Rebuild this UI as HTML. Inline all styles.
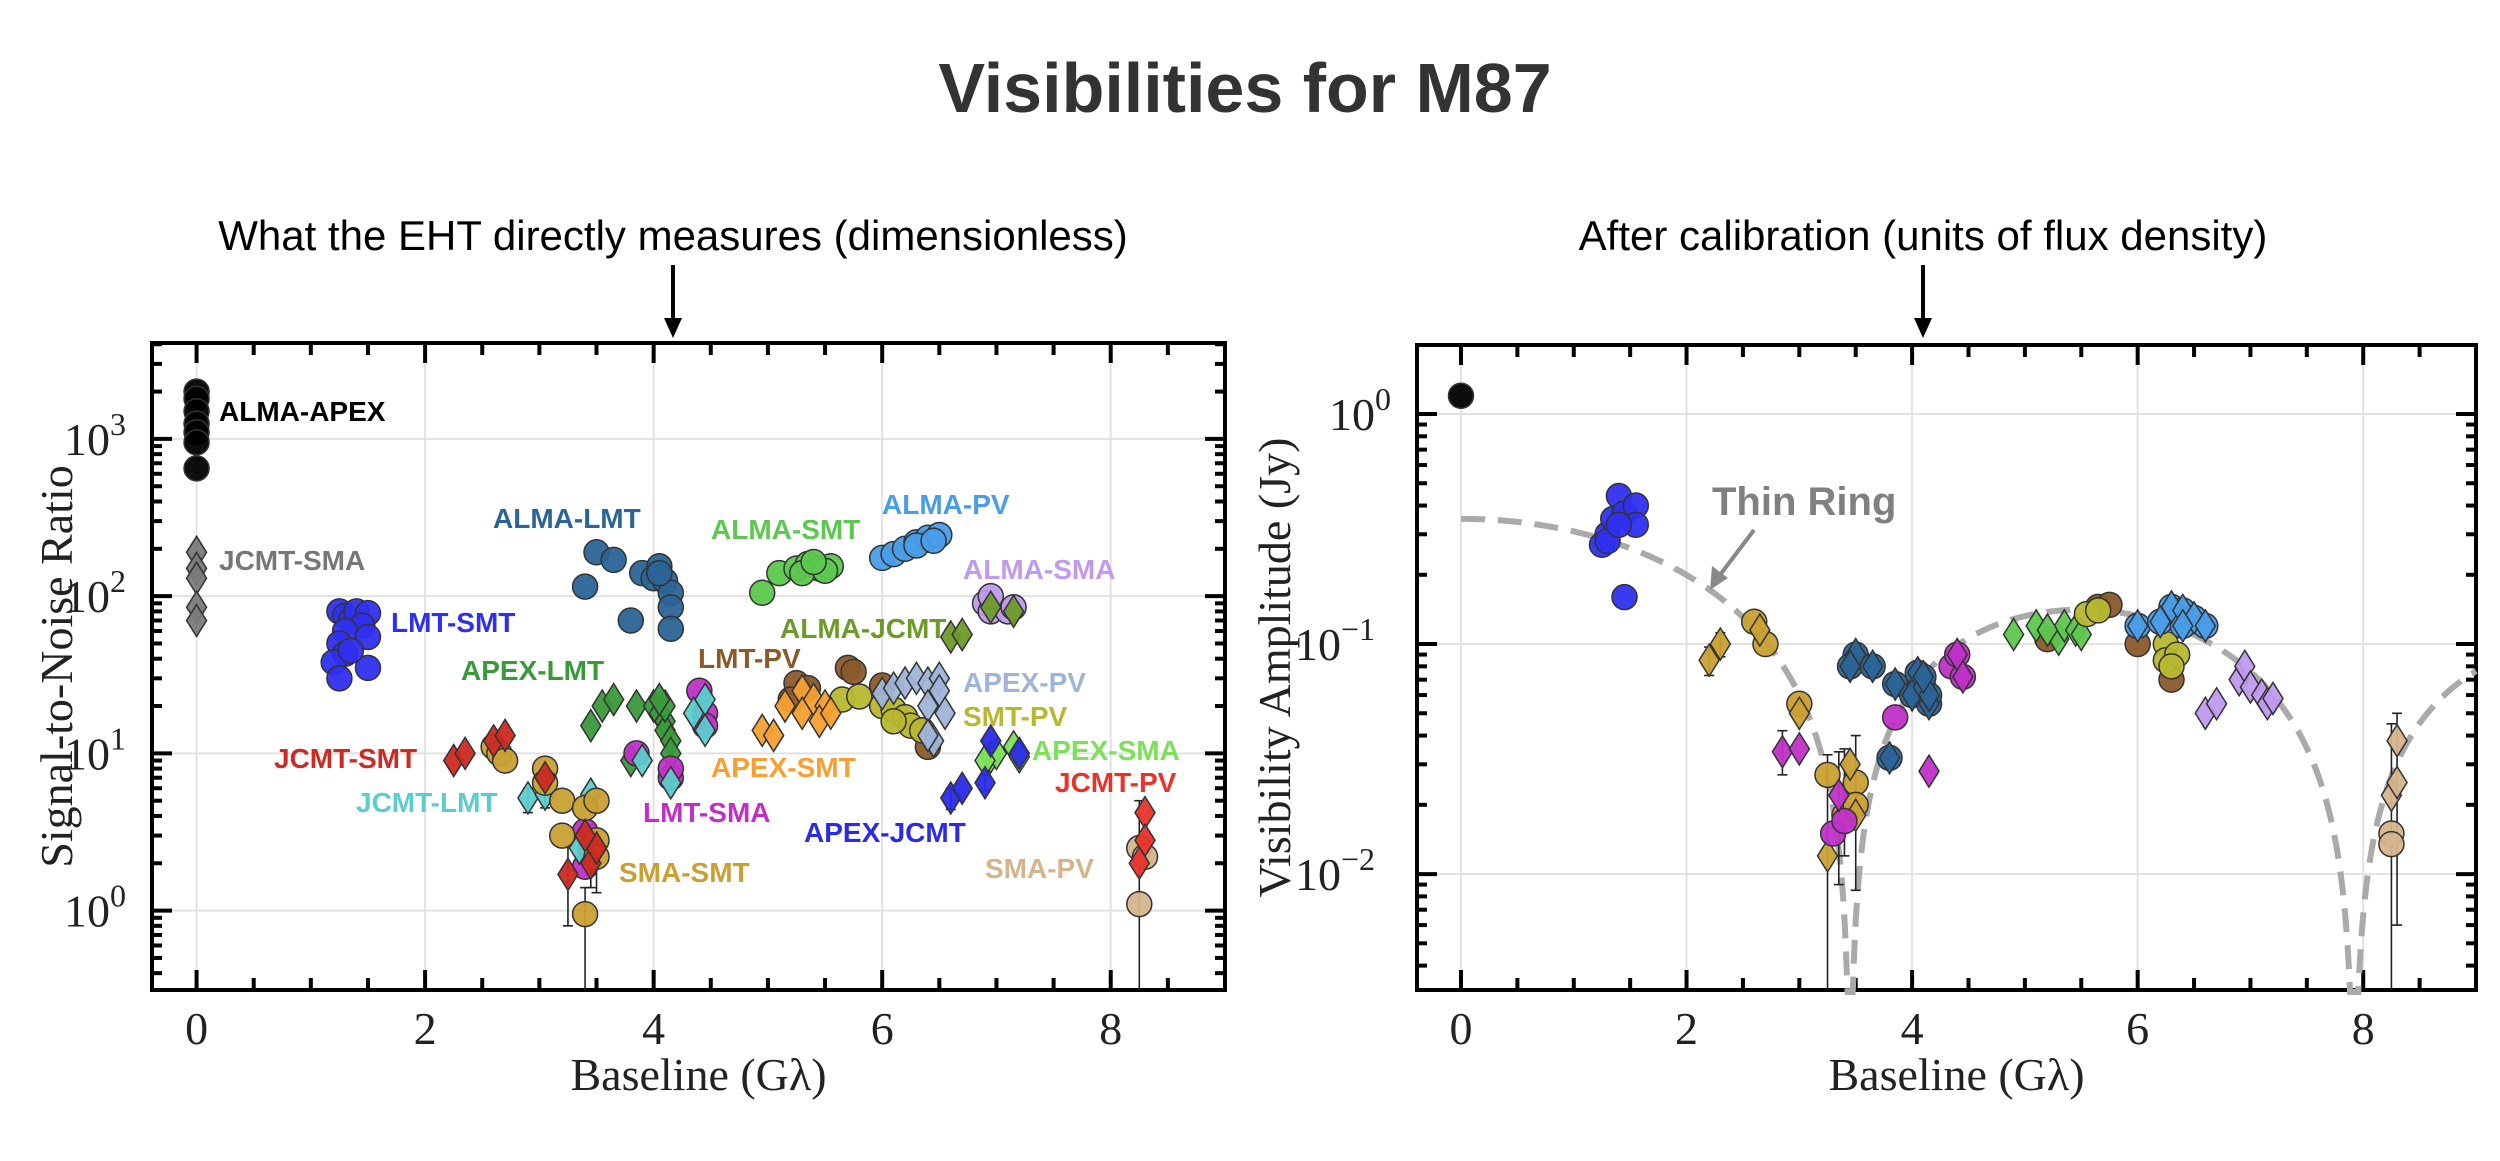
<!DOCTYPE html>
<html><head><meta charset="utf-8"><style>
body{margin:0;background:#fff;}
svg{display:block;}
.tl{font-family:"Liberation Serif",serif;font-size:46px;fill:#222;}
.bl{font-family:"Liberation Sans",sans-serif;font-weight:bold;font-size:28px;}
</style></head><body>
<svg id="chart" width="2500" height="1161" viewBox="0 0 2500 1161" xmlns="http://www.w3.org/2000/svg">
<text x="1245" y="112" text-anchor="middle" font-family="Liberation Sans, sans-serif" font-weight="bold" font-size="70" fill="#333">Visibilities for M87</text>
<text x="673" y="250" text-anchor="middle" font-family="Liberation Sans, sans-serif" font-size="42" fill="#000">What the EHT directly measures (dimensionless)</text>
<text x="1923" y="250" text-anchor="middle" font-family="Liberation Sans, sans-serif" font-size="42" fill="#000">After calibration (units of flux density)</text>
<g><line x1="673" y1="265" x2="673" y2="322" stroke="#000" stroke-width="4"/><polygon points="664,318 682,318 673,338" fill="#000"/></g>
<g><line x1="1923" y1="265" x2="1923" y2="322" stroke="#000" stroke-width="4"/><polygon points="1914,318 1932,318 1923,338" fill="#000"/></g>
<g id="left"></g>
<g id="right"></g>
</svg>
<script>
// ---------- data: left panel (SNR) ----------
const snrAlmaApex = [[0,2000],[0,1800],[0,1500],[0,1250],[0,1100],[0,950],[0,650]];
const snrJcmtSma = [[0,190],[0,150],[0,130],[0,85],[0,70]];
const snrLmtSmt = [[1.25,80],[1.3,75],[1.35,70],[1.4,80],[1.5,78],[1.45,65],[1.3,60],[1.25,50],[1.3,43],[1.2,38],[1.25,30],[1.5,55],[1.5,35],[1.35,45]];
const snrAlmaLmt = [[3.5,190],[3.65,170],[3.4,115],[3.8,70],[3.9,140],[4.0,130],[4.05,155],[4.1,125],[4.15,105],[4.15,85],[4.15,62],[4.05,140]];
const snrAlmaSmt = [[4.95,105],[5.1,140],[5.25,150],[5.35,160],[5.45,150],[5.55,155],[5.3,140],[5.5,145],[5.4,165]];
const snrAlmaPv = [[6.0,175],[6.1,185],[6.2,200],[6.3,220],[6.4,235],[6.5,245],[6.3,210],[6.45,225]];
const snrAlmaSma = [[6.9,90],[6.95,80],[7.1,80],[7.15,85],[6.95,100]];
const snrAlmaJcmt = [[6.6,55],[6.7,57],[6.95,85],[7.15,80]];
const snrLmtPv = [[5.25,28],[5.35,26],[5.7,35],[5.75,33],[6.0,27],[6.35,14],[6.4,11],[5.2,22]];
const snrApexSmt = [[4.95,14],[5.05,13],[5.15,20],[5.3,25],[5.3,18],[5.4,22],[5.5,20],[5.45,16],[5.55,18]];
const snrSmtPv = [[5.65,22],[5.8,23],[6.0,20],[6.1,19],[6.2,17],[6.25,15],[6.35,14],[6.1,16]];
const snrApexPv = [[6.0,24],[6.1,26],[6.2,28],[6.3,30],[6.4,28],[6.5,30],[6.5,25],[6.4,20],[6.55,18],[6.45,12],[6.4,13]];
const snrApexLmt = [[3.45,15],[3.55,20],[3.65,22],[3.85,20],[4.0,20],[4.05,18],[4.1,16],[4.1,14],[4.15,12],[4.15,10],[3.8,9],[4.1,20],[4.05,22]];
const snrLmtSma = [[4.4,25],[4.45,18],[4.45,15],[3.85,10],[4.15,7],[4.15,8],[3.4,3.2],[3.4,1.9],[3.45,2.5]];
const snrJcmtLmt = [[4.35,18],[4.45,22],[4.45,14],[3.9,9],[4.15,6.5],[2.9,5.2],[3.05,5.5],[3.45,5.5],[3.35,2.5]];
const snrJcmtSmt = [[2.25,9],[2.35,10],[2.6,12],[2.7,13],[3.05,7],[3.25,1.7],[3.45,2],[3.5,2.5],[3.4,3]];
const snrSmaSmt = [[2.6,11],[2.65,10],[2.7,9],[3.05,8],[3.05,6.5],[3.2,5],[3.4,4.5],[3.5,5],[3.2,3],[3.5,2.8],[3.5,2.2],[3.4,0.95]];
const snrApexSma = [[6.95,9.5],[7.0,10],[7.15,11],[7.2,9.5],[6.9,9]];
const snrApexJcmt = [[6.6,5.2],[6.7,6],[6.9,6.5],[6.95,12],[7.2,10]];
const snrJcmtPv = [[8.3,4.2],[8.3,2.8],[8.25,2]];
const snrSmaPv = [[8.25,2.5],[8.3,2.2],[8.25,1.1]];
const snrErrors = [[3.4,0.3,1.4],[3.25,0.8,2.6],[3.5,1.3,3.2],[3.45,1.4,3.5],[2.9,4.2,6.0],[3.05,4.5,6.2],[8.25,0.3,5.0],[6.6,4.4,6.0],[6.9,5.8,7.3]];
const snrTicksX = [0,2,4,6,8];
const snrTicksY = [0,1,2,3];
// ---------- data: right panel (amplitude) ----------
const ampAlmaApex = [[0,1.2]];
const ampLmtSmt = [[1.25,0.27],[1.3,0.3],[1.35,0.35],[1.4,0.44],[1.45,0.37],[1.55,0.4],[1.55,0.33],[1.3,0.28],[1.45,0.16],[1.4,0.33]];
const ampSmaSmtD = [[2.2,0.085],[2.3,0.1],[2.65,0.115],[3.0,0.05],[3.25,0.012],[3.45,0.03],[3.5,0.018]];
const ampSmaSmtC = [[2.6,0.125],[2.7,0.1],[3.0,0.055],[3.25,0.027],[3.5,0.025],[3.4,0.018],[3.5,0.02]];
const ampLmtSmaD = [[2.85,0.034],[3.0,0.035],[3.35,0.022],[4.15,0.028],[4.4,0.09],[4.45,0.072]];
const ampLmtSmaC = [[3.3,0.015],[3.4,0.017],[3.85,0.048],[4.35,0.08],[4.4,0.09],[4.45,0.072]];
const ampAlmaLmt = [[3.5,0.09],[3.45,0.08],[3.65,0.08],[3.85,0.067],[3.8,0.032],[4.0,0.06],[4.05,0.075],[4.1,0.065],[4.15,0.055],[4.15,0.06],[4.1,0.072]];
const ampAlmaSmt = [[4.9,0.11],[5.1,0.12],[5.3,0.105],[5.35,0.12],[5.45,0.115],[5.5,0.11],[5.2,0.115]];
const ampLmtPv = [[5.2,0.105],[5.65,0.145],[5.75,0.148],[6.0,0.1],[6.3,0.07]];
const ampSmtPv = [[5.55,0.135],[5.65,0.14],[6.0,0.12],[6.25,0.1],[6.25,0.085],[6.35,0.09],[6.3,0.08]];
const ampAlmaPv = [[6.0,0.12],[6.2,0.125],[6.3,0.145],[6.4,0.14],[6.5,0.13],[6.6,0.12],[6.4,0.12]];
const ampAlmaSma = [[6.6,0.05],[6.7,0.055],[6.9,0.07],[6.95,0.08],[7.0,0.065],[7.1,0.06],[7.15,0.055],[7.2,0.058]];
const ampSmaPvC = [[8.25,0.015],[8.25,0.0135]];
const ampSmaPvD = [[8.3,0.038],[8.25,0.022],[8.3,0.025]];
const ampErrors = [[3.25,0.001,0.033],[3.35,0.009,0.034],[3.5,0.0085,0.04],[3.4,0.012,0.035],[8.25,0.001,0.045],[8.3,0.006,0.05],[2.2,0.073,0.097],[2.3,0.088,0.112],[2.85,0.027,0.042]];
const ampTicksX = [0,2,4,6,8];
const ampTicksY = [-2,-1,0];
const ringAmp = 0.35, ringK = 0.697;

const NS="http://www.w3.org/2000/svg";
function mk(tag,attrs,parent){const e=document.createElementNS(NS,tag);for(const k in attrs)e.setAttribute(k,attrs[k]);parent.appendChild(e);return e;}

function makePanel(g,fx0,fx1,fy0,fy1,xmin,xmax,lmin,lmax){
  return {g,fx0,fx1,fy0,fy1,
    x:v=>fx0+(v-xmin)/(xmax-xmin)*(fx1-fx0),
    y:v=>fy0+(lmax-Math.log10(v))/(lmax-lmin)*(fy1-fy0),
    lmin,lmax,xmin,xmax};
}
const L = makePanel(document.getElementById('left'),152,1225,343,990,-0.39,9.0,-0.505,3.61);
const R = makePanel(document.getElementById('right'),1417,2476,345,990,-0.39,9.0,-2.504,0.30);

function axes(P,ticksX,ticksY,yTitle,yTitleX,yTitleSize){
  const g=P.g;
  for(const t of ticksX){
    const gl=mk('line',{x1:P.x(t),x2:P.x(t),y1:P.fy0,y2:P.fy1,stroke:'#e2e2e2','stroke-width':2},g);
    
    
  }
  for(const t of ticksY){
    const yy=P.y(Math.pow(10,t));
    const gl=mk('line',{x1:P.fx0,x2:P.fx1,y1:yy,y2:yy,stroke:'#e2e2e2','stroke-width':2},g);
    
    
  }
  for(let v=0; v<=P.xmax; v+=0.5){
    const major = Math.abs(v-Math.round(v/2)*2)<1e-6;
    const len = major?20:12;
    const xx=P.x(v);
    mk('line',{x1:xx,x2:xx,y1:P.fy1,y2:P.fy1-len,stroke:'#000','stroke-width':4},g);
    mk('line',{x1:xx,x2:xx,y1:P.fy0,y2:P.fy0+len,stroke:'#000','stroke-width':4},g);
  }
  for(const t of ticksX){
    const tx=mk('text',{x:P.x(t),y:P.fy1+54,'text-anchor':'middle',class:'tl'},g);
    
    
    tx.textContent=t;
  }
  for(let d=Math.floor(P.lmin); d<=Math.ceil(P.lmax); d++){
    for(let m=1;m<10;m++){
      const val=m*Math.pow(10,d); const lv=Math.log10(val);
      if(lv<P.lmin||lv>P.lmax) continue;
      const len=m===1?20:10;
      const yy=P.y(val);
      mk('line',{x1:P.fx0,x2:P.fx0+len,y1:yy,y2:yy,stroke:'#000','stroke-width':4},g);
      mk('line',{x1:P.fx1,x2:P.fx1-len,y1:yy,y2:yy,stroke:'#000','stroke-width':4},g);
    }
  }
  for(const t of ticksY){
    const tx=mk('text',{x:P.fx0-10,y:P.y(Math.pow(10,t))+16,'text-anchor':'end',class:'tl'},g);
    
    
    tx.textContent='10';
    const sp=mk('tspan',{dy:-20,'font-size':32},tx); sp.textContent=(t<0?'\u2212'+(-t):t);
    tx.setAttribute('transform','translate('+(-(t<0?32:16))+',0)');
  }
  const fr=mk('rect',{x:P.fx0,y:P.fy0,width:P.fx1-P.fx0,height:P.fy1-P.fy0,fill:'none',stroke:'#000','stroke-width':4},g);
  
  
  const xt=mk('text',{x:(P.fx0+P.fx1)/2+10,y:1090,'text-anchor':'middle',class:'tl','font-size':44},g);
  
  
  xt.textContent='Baseline (G\u03bb)';
  const yt=mk('text',{x:0,y:0,'text-anchor':'middle',class:'tl','font-size':yTitleSize,transform:'translate('+yTitleX+','+((P.fy0+P.fy1)/2)+') rotate(-90)'},g);
  
  
  yt.textContent=yTitle;
}

function errs(P,arr){
  for(const e of arr){
    const xx=P.x(e[0]);
    const y1=Math.min(P.fy1,P.y(e[1])), y2=P.y(e[2]);
    const l=mk('line',{x1:xx,x2:xx,y1:y1,y2:y2,stroke:'#222','stroke-width':1.6},P.g);
    
    
    mk('line',{x1:xx-5,x2:xx+5,y1:y2,y2:y2,stroke:'#222','stroke-width':1.6},P.g);
    if(P.y(e[1])<P.fy1) mk('line',{x1:xx-5,x2:xx+5,y1:y1,y2:y1,stroke:'#222','stroke-width':1.6},P.g);
  }
}

function series(P,data,color,shape,name){
  const grp=mk('g',{},P.g);
  
  
  for(const d of data){
    const xx=P.x(d[0]), yy=P.y(d[1]);
    let m;
    if(shape==='c'){
      m=mk('circle',{cx:xx,cy:yy,r:12.5,fill:color,stroke:'#333','stroke-width':1.5,'fill-opacity':0.95},grp);
    } else {
      m=mk('polygon',{points:`${xx},${yy-16} ${xx+10},${yy} ${xx},${yy+16} ${xx-10},${yy}`,fill:color,stroke:'#333','stroke-width':1.5,'fill-opacity':0.95},grp);
    }
    
    
  }
}

function label(P,txt,px,py,color){
  const t=mk('text',{x:px,y:py,class:'bl',fill:color},P.g);
  
  
  t.textContent=txt;
}

// ---------- left panel ----------
axes(L,snrTicksX,snrTicksY,'Signal-to-Noise Ratio',72,50);
errs(L,snrErrors);
series(L,snrAlmaApex,'#000000','c','alma-apex');
series(L,snrJcmtSma,'#7a7a7a','d','jcmt-sma');
series(L,snrLmtSmt,'#2f2ff0','c','lmt-smt');
series(L,snrAlmaLmt,'#2b6496','c','alma-lmt');
series(L,snrAlmaSmt,'#5cc84e','c','alma-smt');
series(L,snrAlmaPv,'#4a9de8','c','alma-pv');
series(L,snrAlmaSma,'#c09aee','c','alma-sma');
series(L,snrAlmaJcmt,'#6e9a2a','d','alma-jcmt');
series(L,snrLmtPv,'#8b5a2b','c','lmt-pv');
series(L,snrSmtPv,'#b8b830','c','smt-pv');
series(L,snrApexSmt,'#f5a030','d','apex-smt');
series(L,snrApexPv,'#9fb4d8','d','apex-pv');
series(L,snrApexLmt,'#3a9a3a','d','apex-lmt');
series(L,snrLmtSma,'#c030c8','c','lmt-sma');
series(L,snrJcmtLmt,'#5ccccc','d','jcmt-lmt');
series(L,snrSmaSmt,'#c9a032','c','sma-smt');
series(L,snrJcmtSmt,'#cc2a22','d','jcmt-smt');
series(L,snrApexSma,'#7ee05a','d','apex-sma');
series(L,snrApexJcmt,'#2a2ae8','d','apex-jcmt');
series(L,snrSmaPv,'#d4b48c','c','sma-pv');
series(L,snrJcmtPv,'#e8332a','d','jcmt-pv');
label(L,'ALMA-APEX',219,421,'#000');
label(L,'JCMT-SMA',219,570,'#777');
label(L,'LMT-SMT',391,632,'#2f2ff0');
label(L,'ALMA-LMT',493,528,'#2b6496');
label(L,'ALMA-SMT',711,539,'#5cc84e');
label(L,'ALMA-PV',882,514,'#4a9de8');
label(L,'ALMA-SMA',963,579,'#c09aee');
label(L,'ALMA-JCMT',780,638,'#6e9a2a');
label(L,'LMT-PV',698,668,'#8b5a2b');
label(L,'APEX-LMT',461,680,'#3a9a3a');
label(L,'APEX-PV',963,692,'#9fb4d8');
label(L,'SMT-PV',963,726,'#b8b830');
label(L,'APEX-SMA',1032,760,'#7ee05a');
label(L,'JCMT-PV',1055,792,'#e8332a');
label(L,'APEX-SMT',711,777,'#f5a030');
label(L,'JCMT-SMT',274,768,'#cc2a22');
label(L,'JCMT-LMT',356,812,'#5ccccc');
label(L,'LMT-SMA',643,822,'#c030c8');
label(L,'APEX-JCMT',804,842,'#2a2ae8');
label(L,'SMA-SMT',619,882,'#c9a032');
label(L,'SMA-PV',985,878,'#d4b48c');

// ---------- right panel ----------
axes(R,ampTicksX,ampTicksY,'Visibility Amplitude (Jy)',1290,46);
function besselJ0(x){let s=0,t=1;for(let k=0;k<60;k++){if(k>0)t*=-(x*x/4)/(k*k);s+=t;}return s;}
(function(){
  let d='';let pen=false;
  for(let u=0;u<=R.xmax;u+=0.004){
    let v=ringAmp*Math.abs(besselJ0(ringK*u));
    let yy=R.y(Math.max(v,1e-6));
    if(yy>R.fy1) yy=R.fy1+2;
    d+=(pen?'L':'M')+R.x(u).toFixed(1)+','+yy.toFixed(1);pen=true;
  }
  const p=mk('path',{d:d,fill:'none',stroke:'#aaaaaa','stroke-width':6,'stroke-dasharray':'24,13'},R.g);
  
  
})();
errs(R,ampErrors);
series(R,ampAlmaApex,'#000000','c','alma-apex');
series(R,ampLmtSmt,'#2f2ff0','c','lmt-smt');
series(R,ampSmaSmtC,'#c9a032','c','sma-smt-circles');
series(R,ampSmaSmtD,'#c9a032','d','sma-smt-diamonds');
series(R,ampLmtSmaC,'#c030c8','c','lmt-sma-circles');
series(R,ampLmtSmaD,'#c030c8','d','lmt-sma-diamonds');
series(R,ampAlmaLmt,'#2b6496','c','alma-lmt');
series(R,ampAlmaLmt,'#2b6496','d','alma-lmt-overlay');
series(R,ampLmtPv,'#8b5a2b','c','lmt-pv');
series(R,ampAlmaSmt,'#5cc84e','d','alma-smt');
series(R,ampSmtPv,'#b8b830','c','smt-pv');
series(R,ampAlmaPv,'#4a9de8','c','alma-pv');
series(R,ampAlmaPv,'#4a9de8','d','alma-pv-overlay');
series(R,ampAlmaSma,'#c09aee','d','alma-sma');
series(R,ampSmaPvC,'#d4b48c','c','sma-pv-circles');
series(R,ampSmaPvD,'#d4b48c','d','sma-pv-diamonds');
(function(){
  const t=mk('text',{x:1712,y:515,'font-family':'Liberation Sans, sans-serif','font-weight':'bold','font-size':40,fill:'#808080'},R.g);
  
  
  t.textContent='Thin Ring';
  const a=mk('g',{},R.g);
  
  
  mk('line',{x1:1754,y1:530,x2:1720,y2:575,stroke:'#888','stroke-width':4},a);
  mk('polygon',{points:'1710,590 1712,566 1728,578',fill:'#888'},a);
})();
</script>
</body></html>
